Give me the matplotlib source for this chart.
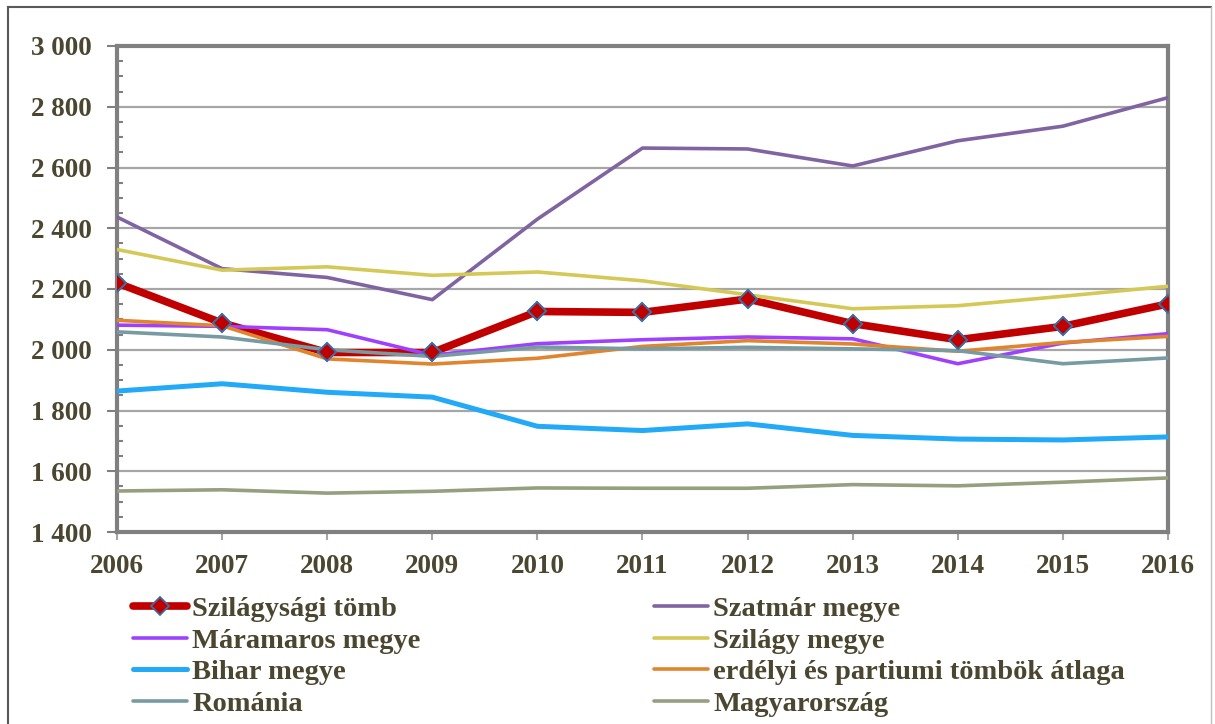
import matplotlib
matplotlib.use("Agg")
import matplotlib.pyplot as plt
from matplotlib.ticker import MultipleLocator, FuncFormatter
from matplotlib.lines import Line2D

# years
years = [2006, 2007, 2008, 2009, 2010, 2011, 2012, 2013, 2014, 2015, 2016]

# series values
szilagysagi = [2220, 2088, 1991, 1991, 2126, 2123, 2167, 2086, 2033, 2077, 2151]
szatmar = [2437, 2267, 2238, 2165, 2430, 2664, 2661, 2605, 2688, 2736, 2830]
maramaros = [2081, 2077, 2066, 1982, 2020, 2033, 2042, 2036, 1954, 2022, 2053]
szilagy = [2330, 2262, 2273, 2245, 2256, 2227, 2181, 2135, 2145, 2176, 2209]
bihar = [1864, 1888, 1860, 1844, 1748, 1734, 1756, 1718, 1706, 1703, 1713]
atlag = [2097, 2079, 1970, 1953, 1972, 2011, 2030, 2019, 1995, 2024, 2044]
romania = [2059, 2042, 2000, 1978, 2009, 2003, 2008, 2003, 1997, 1954, 1973]
magyar = [1535, 1539, 1528, 1534, 1545, 1544, 1544, 1556, 1552, 1564, 1578]

labels = ["Szilágysági tömb", "Szatmár megye", "Máramaros megye", "Szilágy megye",
          "Bihar megye", "erdélyi és partiumi tömbök átlaga", "Románia", "Magyarország"]

txt_col = "#4B4630"
font = "Liberation Serif"

fig = plt.figure(figsize=(12.15, 7.24), dpi=100)
ax = fig.add_axes([117 / 1215, 1 - 532 / 724, (1168 - 117) / 1215, (532 - 46) / 724])

# outer frame
fig.add_artist(Line2D([8 / 1215, 8 / 1215], [0, 1 - 7 / 724], color="#595959", lw=1.5))
fig.add_artist(Line2D([8 / 1215, 1211 / 1215], [1 - 7 / 724, 1 - 7 / 724], color="#595959", lw=1.5))
fig.add_artist(Line2D([1211 / 1215, 1211 / 1215], [0, 1 - 7 / 724], color="#BFBFBF", lw=1))

h_red, = ax.plot(years, szilagysagi, color="#C00000", lw=5.5, marker="D", markersize=9.5,
                 markerfacecolor="#C00000", markeredgecolor="#3A70A8", markeredgewidth=1.3,
                 zorder=3, solid_capstyle="round")
h_szat, = ax.plot(years, szatmar, color="#8064A2", lw=2.6, zorder=4, solid_capstyle="round")
h_mar, = ax.plot(years, maramaros, color="#A040FF", lw=2.6, zorder=4, solid_capstyle="round")
h_szil, = ax.plot(years, szilagy, color="#D4C857", lw=2.6, zorder=4, solid_capstyle="round")
h_bih, = ax.plot(years, bihar, color="#22AAF8", lw=3.6, zorder=4, solid_capstyle="round")
h_atl, = ax.plot(years, atlag, color="#E0842E", lw=2.6, zorder=4, solid_capstyle="round")
h_rom, = ax.plot(years, romania, color="#789AA2", lw=2.6, zorder=4, solid_capstyle="round")
h_mag, = ax.plot(years, magyar, color="#95A07E", lw=2.6, zorder=4, solid_capstyle="round")
# markers again on top
ax.plot(years, szilagysagi, ls="none", marker="D", markersize=9.5,
        markerfacecolor="#C00000", markeredgecolor="#3A70A8", markeredgewidth=1.3, zorder=5)

ax.set_xlim(2006, 2016)
ax.set_ylim(1400, 3000)
ax.set_xticks(years)
ax.yaxis.set_major_locator(MultipleLocator(200))
ax.yaxis.set_minor_locator(MultipleLocator(50))
ax.yaxis.set_major_formatter(FuncFormatter(lambda v, p: f"{int(v):,}".replace(",", " ")))

ax.grid(axis="y", which="major", color="#A6A6A6", lw=1.6, zorder=1)
ax.set_axisbelow(True)
for s in ax.spines.values():
    s.set_color("#808080")
    s.set_linewidth(3)

ax.tick_params(axis="y", which="major", direction="out", length=7, width=1.5,
               color="#808080", pad=11)
ax.tick_params(axis="y", which="minor", direction="in", length=4, width=1.5, color="#808080")
ax.tick_params(axis="x", which="major", direction="out", length=6, width=1.5,
               color="#A6A6A6", pad=10)
for t in ax.get_xticklabels() + ax.get_yticklabels():
    t.set_fontfamily(font)
    t.set_fontweight("bold")
    t.set_fontsize(19.5)
    t.set_color(txt_col)

handles = [h_red, h_mar, h_bih, h_rom, h_szat, h_szil, h_atl, h_mag]
names = [labels[0], labels[2], labels[4], labels[6], labels[1], labels[3], labels[5], labels[7]]
leg = fig.legend(handles, names, ncol=2, loc="upper left",
                 bbox_to_anchor=(133 / 1215, 1 - 596 / 724), frameon=False,
                 borderpad=0, borderaxespad=0, handlelength=1.9, handletextpad=0.18,
                 columnspacing=8.2, labelspacing=0.2,
                 prop={"family": font, "weight": "bold", "size": 20.5})
for t in leg.get_texts():
    t.set_color(txt_col)

fig.savefig("out.png", dpi=100)
